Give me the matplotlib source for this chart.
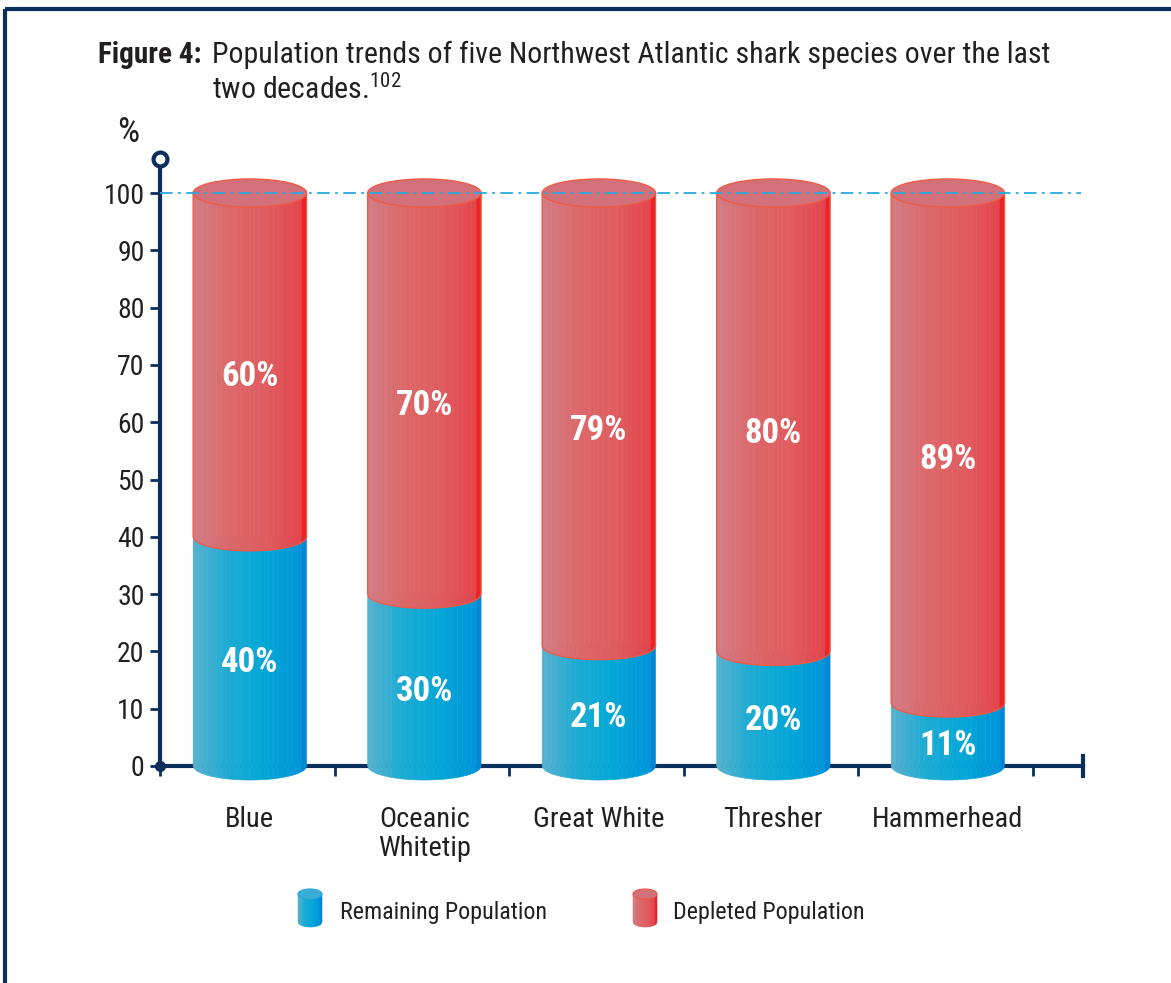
import numpy as np
import matplotlib
matplotlib.use("Agg")
import matplotlib.pyplot as plt
from matplotlib.patches import Polygon, Ellipse
from matplotlib.colors import LinearSegmentedColormap
from matplotlib import font_manager

# ---------------- data ----------------
species = ["Blue", "Oceanic\nWhitetip", "Great White", "Thresher", "Hammerhead"]
remaining = [40, 30, 21, 20, 11]
depleted = [60, 70, 79, 80, 89]
yticks = [0, 10, 20, 30, 40, 50, 60, 70, 80, 90, 100]
legend_labels = ["Remaining Population", "Depleted Population"]

# ---------------- style ----------------
names = {f.name for f in font_manager.fontManager.ttflist}
FONT = "DejaVu Sans"
for cand in ["Roboto Condensed", "Open Sans Condensed", "Liberation Sans Narrow",
             "Lato", "Roboto"]:
    if cand in names:
        FONT = cand
        break
plt.rcParams["font.family"] = [FONT, "DejaVu Sans"]
plt.rcParams["mathtext.default"] = "regular"

NAVY = "#0b2f5c"
TEXT = "#231f20"
red_cmap = LinearSegmentedColormap.from_list(
    "r", [(0, "#d27c84"), (0.35, "#dd6668"), (0.7, "#df5b5f"), (1, "#e4464d")])
blue_cmap = LinearSegmentedColormap.from_list(
    "b", [(0, "#55b1ce"), (0.3, "#1eabd3"), (0.65, "#03a8d6"), (1, "#0196d9")])
RED_RIM, BLUE_RIM = "#ec2227", "#0088d6"
RED_TOP, RED_EDGE = "#d3717a", "#ef5a45"

W, H = 1171, 983
fig = plt.figure(figsize=(W / 100, H / 100), dpi=100)

px_per_x = 174.5
px_per_y = 5.73
xlim = (-0.5, 4.8)
ylim = (-8, 112)
left_px = 160
y0_px = 766
ax_w = (xlim[1] - xlim[0]) * px_per_x
ax_h = (ylim[1] - ylim[0]) * px_per_y
bottom_px = y0_px - ylim[0] * px_per_y
ax = fig.add_axes([left_px / W, (H - bottom_px) / H, ax_w / W, ax_h / H])
ax.set_xlim(*xlim)
ax.set_ylim(*ylim)
ax.patch.set_alpha(0)


def cylinder(a_x, xc, y0, y1, w, eh, cmap, rim, n=24, edge=None, z=2):
    a = w / 2.0
    b = eh / 2.0
    xs = np.linspace(xc - a, xc + a, n + 1)
    for i in range(n):
        xa, xb = xs[i], xs[i + 1]
        xx = np.linspace(xa, xb, 6)
        yb = y0 - b * np.sqrt(np.clip(1 - ((xx - xc) / a) ** 2, 0, 1))
        poly = [(xa, y1)] + list(zip(xx, yb)) + [(xb, y1)]
        col = rim if i == n - 1 else cmap(i / (n - 2))
        a_x.add_patch(Polygon(poly, closed=True, fc=col, ec=col, lw=0.4, zorder=z))
    if edge is not None:
        xx = np.linspace(xc - a, xc + a, 80)
        yb = y0 - b * np.sqrt(np.clip(1 - ((xx - xc) / a) ** 2, 0, 1))
        a_x.plot(np.r_[xc - a, xx, xc + a], np.r_[y1, yb, y1], color=edge, lw=0.9,
                 zorder=z + 0.1, solid_capstyle="butt")


bw = 0.65
eh = 4.9
x = np.arange(len(species))
xc = x + 0.015
for i, (r, d) in enumerate(zip(remaining, depleted)):
    cylinder(ax, xc[i], 0, r, bw, eh, blue_cmap, BLUE_RIM, z=2)
    cylinder(ax, xc[i], r, r + d, bw, eh, red_cmap, RED_RIM, edge=RED_EDGE, z=3)
    ax.add_patch(Ellipse((xc[i], r + d), bw, eh, fc=RED_TOP, ec=RED_EDGE, lw=1.0, zorder=4))
    ax.text(xc[i], r / 2 - 2, f"{r}%", color="white", fontsize=25, fontweight="bold",
            ha="center", va="center", zorder=6)
    ax.text(xc[i], r + d / 2 - 2, f"{d}%", color="white", fontsize=25, fontweight="bold",
            ha="center", va="center", zorder=6)

ax.plot([xlim[0], 4.78], [100, 100], color="#2aa9e0", lw=1.3,
        linestyle=(0, (7, 3, 1.5, 3)), zorder=5)

for s in ["top", "right"]:
    ax.spines[s].set_visible(False)
ax.spines["left"].set_position(("data", -0.5))
ax.spines["left"].set_bounds(0, 106)
ax.spines["bottom"].set_position(("data", 0))
ax.spines["bottom"].set_bounds(-0.5, 4.79)
for s in ["left", "bottom"]:
    ax.spines[s].set_color(NAVY)
    ax.spines[s].set_linewidth(3)
    ax.spines[s].set_zorder(1)

ax.set_yticks(yticks)
ax.set_yticklabels([str(v) for v in yticks])
ax.tick_params(axis="y", length=7, width=2, color=NAVY, labelsize=20,
               labelcolor=TEXT, pad=4)
ax.set_xticks(np.arange(-0.5, 5, 1.0))
ax.set_xticklabels([])
ax.tick_params(axis="x", which="major", length=7, width=2, color=NAVY, direction="out")
ax.set_xticks(xc, minor=True)
ax.set_xticklabels(species, minor=True, fontsize=20.5, color=TEXT, linespacing=1.1)
ax.tick_params(axis="x", which="minor", length=0, pad=29)

ax.plot([4.79, 4.79], [-1.8, 1.8], color=NAVY, lw=3, zorder=1, clip_on=False)
ax.plot([-0.5], [106], marker="o", ms=10, mfc="white", mec=NAVY, mew=3, zorder=7,
        clip_on=False)
ax.plot([-0.5], [0], marker="o", ms=7, color=NAVY, zorder=7, clip_on=False)
ax.text(-0.68, 110.5, "%", fontsize=25, color=TEXT, ha="center", va="center")

fig.text(98 / W, 1 - 55 / H, "Figure 4:", fontsize=21, fontweight="bold", color=TEXT,
         ha="left", va="center")
fig.text(212 / W, 1 - 55 / H,
         "Population trends of five Northwest Atlantic shark species over the last",
         fontsize=21.5, color=TEXT, ha="left", va="center")
fig.text(212 / W, 1 - 89 / H, "two decades.$^{102}$", fontsize=21.5, color=TEXT,
         ha="left", va="center")

lax = fig.add_axes([0, 0, 1, 1])
lax.set_xlim(0, W)
lax.set_ylim(H, 0)
lax.axis("off")
leg_specs = [(310, blue_cmap, BLUE_RIM, "#3aaed6", "#2aa6d8", 340),
             (645, red_cmap, RED_RIM, RED_TOP, RED_EDGE, 673)]
for (cx, cm, rim, top, edg, tx), lab in zip(leg_specs, legend_labels):
    a = 12
    b = 5
    xs = np.linspace(cx - a, cx + a, 13)
    for i in range(12):
        xx = np.linspace(xs[i], xs[i + 1], 5)
        yb = 922 + b * np.sqrt(np.clip(1 - ((xx - cx) / a) ** 2, 0, 1))
        poly = [(xs[i], 894)] + list(zip(xx, yb)) + [(xs[i + 1], 894)]
        col = rim if i == 11 else cm(i / 10)
        lax.add_patch(Polygon(poly, closed=True, fc=col, ec=col, lw=0.4))
    lax.add_patch(Ellipse((cx, 894), 2 * a, 2 * b, fc=top, ec=edg, lw=0.8))
    lax.text(tx, 913, lab, fontsize=17.3, color=TEXT, ha="left", va="center")

lax.plot([5, W], [9, 9], color=NAVY, lw=3, solid_capstyle="butt")
lax.plot([5, 5], [9, H], color=NAVY, lw=3, solid_capstyle="butt")

fig.savefig("out.png", dpi=100)
